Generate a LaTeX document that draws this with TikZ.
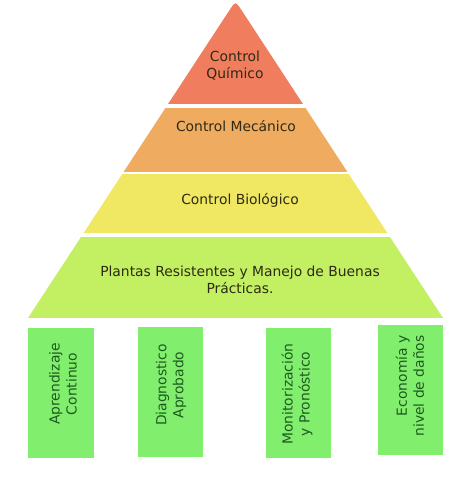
\documentclass[tikz,border=0pt]{standalone}
\usepackage{fontspec}
\setmainfont{DejaVu Sans}
\definecolor{quimico}{HTML}{EF7D5E}
\definecolor{mecanico}{HTML}{EFAB5F}
\definecolor{biologico}{HTML}{F0E862}
\definecolor{plantas}{HTML}{C2F062}
\definecolor{verdecaja}{HTML}{82EE6E}
\definecolor{textopiso}{HTML}{2E2A14}
\definecolor{textocaja}{HTML}{1E5A1E}
\begin{document}
\begin{tikzpicture}[x=0.75pt, y=-0.75pt,
    piso/.style={text=textopiso, font=\fontsize{10.4}{12.75}\selectfont, align=center},
    caja/.style={fill=verdecaja, rotate=90, minimum width=97.5pt, minimum height=48.75pt, inner sep=0pt},
    cajatexto/.style={text=textocaja, rotate=90, font=\fontsize{10.4}{12.75}\selectfont, align=center}]
    \useasboundingbox (0,0) rectangle (474,487);

    % Pirámide en cuatro pisos
    \begin{scope}
        \clip (28,318) -- (229.6,10) .. controls (235.5,1) .. (241.4,10) -- (443,318) -- cycle;
        \foreach \ya/\yb/\col in {0/104/quimico, 108/172/mecanico, 174/233/biologico, 237/318/plantas} {
            \fill[\col] (0,\ya) rectangle (474,\yb);
        }
    \end{scope}
    \node[piso] (quimico) at (235,66) {Control\\Químico};
    \node[piso] (mecanico) at (236,126) {Control Mecánico};
    \node[piso] (biologico) at (240,200) {Control Biológico};
    \node[piso] (plantas) at (240,280) {Plantas Resistentes y Manejo de Buenas\\Prácticas.};

    % Cajas de la base
    \foreach \nombre/\x/\y in {aprendizaje/61/393, diagnostico/170.5/392, monitoreo/298.5/392.5, economia/410.5/390} {
        \node[caja] (\nombre) at (\x,\y) {};
    }
    \node[cajatexto] (taprendizaje) at (63,384) {Aprendizaje\\Continuo};
    \node[cajatexto] (tdiagnostico) at (171,385) {Diagnostico\\Aprobado};
    \node[cajatexto] (tmonitoreo) at (297,394) {Monitorización\\y Pronóstico};
    \node[cajatexto, align=right] (teconomia) at (410,386) {Economía y\\nivel de daños};
\end{tikzpicture}
\end{document}
